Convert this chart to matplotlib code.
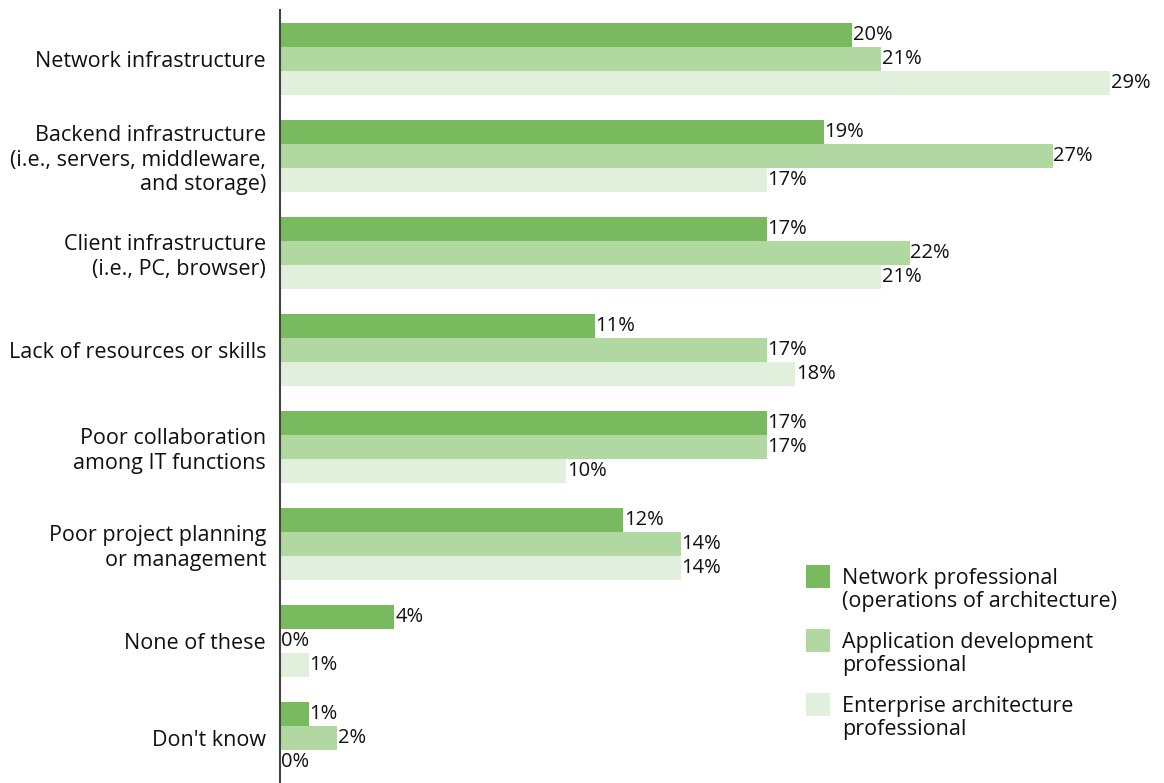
import matplotlib.pyplot as plt
from matplotlib.patches import Rectangle
import numpy as np

plt.rcParams['font.family'] = ['Open Sans', 'DejaVu Sans']

categories = [
    'Network infrastructure',
    'Backend infrastructure\n(i.e., servers, middleware,\nand storage)',
    'Client infrastructure\n(i.e., PC, browser)',
    'Lack of resources or skills',
    'Poor collaboration\namong IT functions',
    'Poor project planning\nor management',
    'None of these',
    "Don't know",
]
network = [20, 19, 17, 11, 17, 12, 4, 1]
appdev = [21, 27, 22, 17, 17, 14, 0, 2]
enterprise = [29, 17, 21, 18, 10, 14, 1, 0]

series_names = [
    'Network professional\n(operations of architecture)',
    'Application development\nprofessional',
    'Enterprise architecture\nprofessional',
]
colors = ['#7aba5e', '#b0d8a0', '#e1f0dc']

W, H = 1164, 783
fig = plt.figure(figsize=(W / 100, H / 100), dpi=100)
px = 28.62  # pixels per percent
ax = fig.add_axes([280 / W, 0, 30 * px / W, (H - 10) / H])

y = np.arange(len(categories))
bh = 24 / 97
fs = 15.5
txt = '#111111'

for k, (vals, col) in enumerate(zip([network, appdev, enterprise], colors)):
    pos = y + (k - 1) * bh
    ax.barh(pos, vals, height=bh, color=col, edgecolor='none')
    for p, v in zip(pos, vals):
        ax.annotate(f'{v}%', (v, p), xytext=(0.5, 0), textcoords='offset points',
                    va='center', ha='left', fontsize=14.5, color=txt,
                    annotation_clip=False)

ax.set_xlim(0, 30)
ax.set_ylim(7.464, -0.505)
ax.set_yticks(y)
ax.set_yticklabels(categories, fontsize=fs, color=txt)
ax.tick_params(axis='y', length=0, pad=10)
ax.set_xticks([])
for s in ['top', 'right', 'bottom']:
    ax.spines[s].set_visible(False)
ax.spines['left'].set_color('#444444')
ax.spines['left'].set_linewidth(1.5)

# legend
leg_y = [565, 629, 693]
for ly, name, col in zip(leg_y, series_names, colors):
    fig.add_artist(Rectangle((806 / W, 1 - (ly + 23) / H), 24 / W, 23 / H,
                             transform=fig.transFigure, color=col, lw=0))
    fig.text(842 / W, 1 - (ly + 3) / H, name, fontsize=fs, va='top', ha='left',
             color=txt, linespacing=1.1)

fig.savefig('out.png', dpi=100)
